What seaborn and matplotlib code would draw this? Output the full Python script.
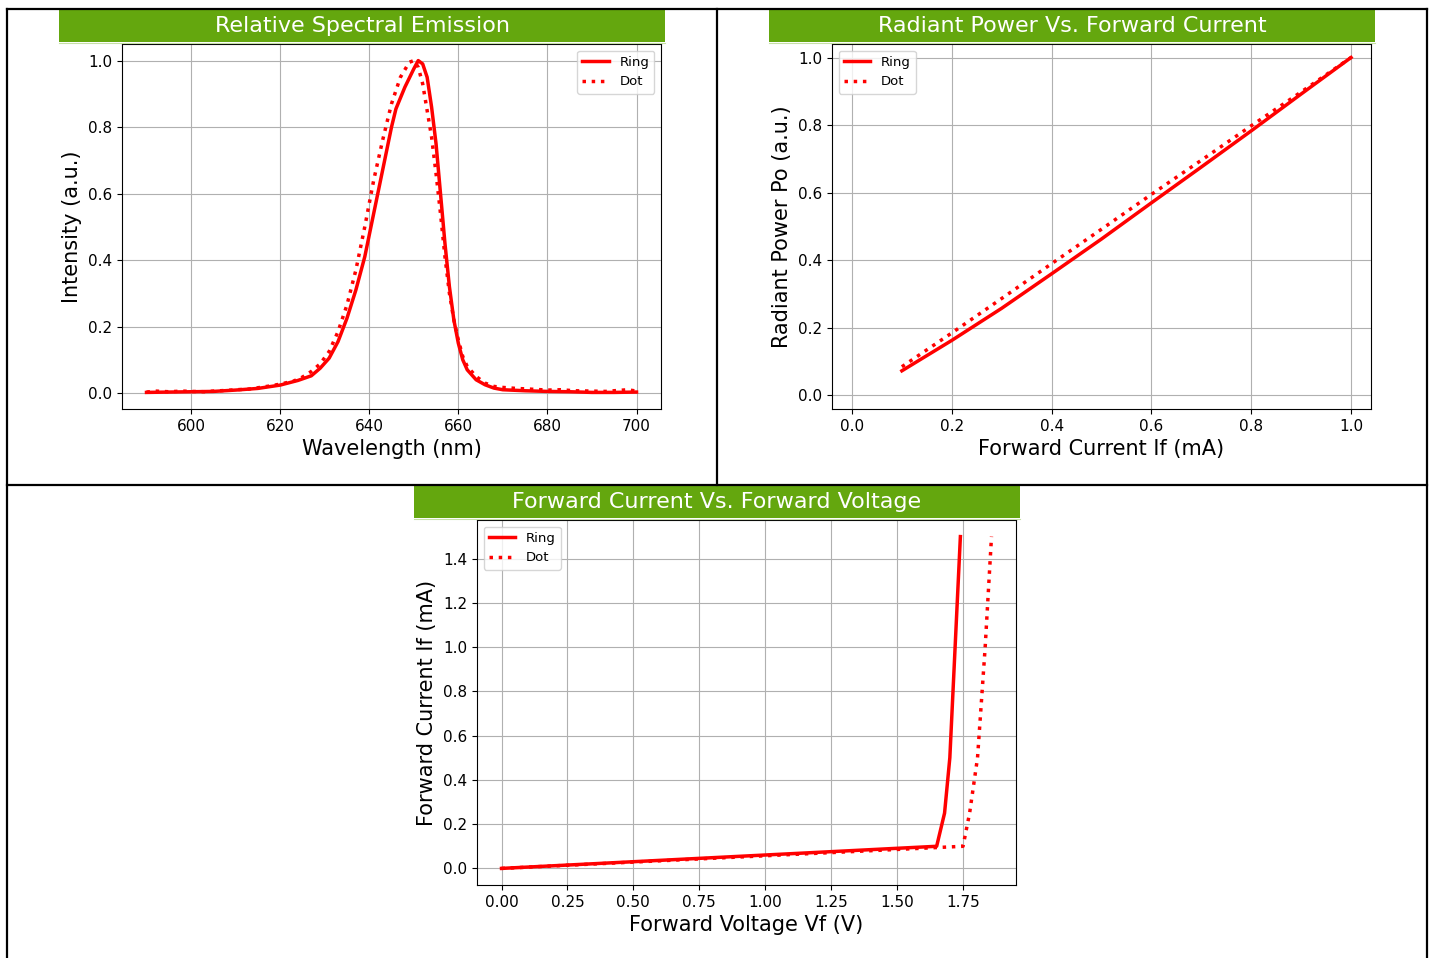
import matplotlib
matplotlib.use("Agg")
import matplotlib.pyplot as plt
import numpy as np
import pandas as pd
import seaborn as sns
from matplotlib.patches import Rectangle
from matplotlib.lines import Line2D

# --- spectral emission ---
wl_ring = [590, 595, 600, 605, 610, 615, 620, 624, 627, 629, 631, 633, 635, 637, 639,
           641, 643, 645, 646, 648, 650, 651, 652, 653, 654, 655, 656, 657, 658, 659,
           660, 661, 662, 664, 666, 668, 670, 675, 680, 685, 690, 695, 700]
int_ring = [0.002, 0.003, 0.004, 0.005, 0.009, 0.014, 0.024, 0.038, 0.052, 0.075, 0.105,
            0.155, 0.225, 0.31, 0.41, 0.54, 0.67, 0.80, 0.855, 0.92, 0.975, 1.0, 0.99,
            0.95, 0.86, 0.75, 0.60, 0.45, 0.32, 0.22, 0.15, 0.10, 0.07, 0.04, 0.025,
            0.015, 0.010, 0.007, 0.005, 0.004, 0.002, 0.002, 0.003]
wl_dot = [590, 592, 595, 598, 600, 603, 605, 608, 610, 613, 615, 618, 620, 623, 625, 627,
          629, 631, 633, 635, 637, 639, 641, 643, 645, 647, 649, 650, 651, 652, 653, 654,
          655, 656, 657, 658, 659, 660, 661, 662, 664, 666, 668, 670, 673, 676, 680, 683,
          686, 690, 693, 696, 698, 700]
int_dot = [0.003, 0.006, 0.004, 0.006, 0.005, 0.004, 0.006, 0.008, 0.010, 0.012, 0.016,
           0.022, 0.027, 0.036, 0.048, 0.065, 0.088, 0.125, 0.185, 0.265, 0.37, 0.50,
           0.64, 0.76, 0.87, 0.95, 0.995, 1.0, 0.98, 0.93, 0.85, 0.77, 0.66, 0.54, 0.41,
           0.30, 0.22, 0.16, 0.11, 0.08, 0.05, 0.03, 0.02, 0.017, 0.014, 0.012, 0.009,
           0.010, 0.007, 0.006, 0.005, 0.008, 0.010, 0.006]

# --- radiant power vs forward current ---
if_power = [0.1, 0.2, 0.3, 0.4, 0.5, 0.6, 0.7, 0.8, 0.9, 1.0]
po_ring = [0.073, 0.163, 0.258, 0.360, 0.463, 0.570, 0.676, 0.783, 0.892, 1.0]
po_dot = [0.085, 0.185, 0.287, 0.390, 0.492, 0.595, 0.696, 0.798, 0.898, 1.0]

# --- forward current vs forward voltage ---
vf_ring = [0.0, 1.65, 1.68, 1.70, 1.72, 1.74]
if_ring = [0.0, 0.10, 0.25, 0.50, 1.00, 1.50]
vf_dot = [0.0, 1.75, 1.775, 1.805, 1.834, 1.858]
if_dot = [0.0, 0.10, 0.25, 0.50, 1.00, 1.50]

W, H = 1432, 958
GREEN = "#64a70e"

fig = plt.figure(figsize=(W / 100, H / 100), dpi=100)


def add_panel(x0, y0, x1, y1, bar_x0, bar_y0, bar_x1, bar_y1, title):
    ax = fig.add_axes([x0 / W, 1 - y1 / H, (x1 - x0) / W, (y1 - y0) / H])
    fig.add_artist(Rectangle((bar_x0 / W, 1 - bar_y1 / H), (bar_x1 - bar_x0) / W,
                             (bar_y1 - bar_y0) / H, transform=fig.transFigure,
                             facecolor=GREEN, edgecolor="none", zorder=2))
    # thin pale line under the bar
    fig.add_artist(Line2D([bar_x0 / W, bar_x1 / W], [1 - (bar_y1 + 0.5) / H] * 2,
                          transform=fig.transFigure, color="#c6e0a6", lw=0.8, zorder=2))
    fig.text((bar_x0 + bar_x1) / 2 / W, 1 - (bar_y0 + bar_y1) / 2 / H, title,
             color="white", fontsize=16, ha="center", va="center", zorder=3)
    return ax


def draw(ax, x1, y1, x2, y2, xlabel, ylabel, loc):
    sns.lineplot(x=x1, y=y1, ax=ax, color="red", lw=2.5, linestyle="-", label="Ring")
    sns.lineplot(x=x2, y=y2, ax=ax, color="red", lw=2.5, linestyle=":", label="Dot")
    ax.set_xlabel(xlabel, fontsize=15)
    ax.set_ylabel(ylabel, fontsize=15)
    ax.tick_params(labelsize=11)
    ax.grid(True)
    ax.legend(loc=loc, fontsize=9.5)


ax1 = add_panel(122, 44, 661, 409, 59, 9, 665, 42, "Relative Spectral Emission")
draw(ax1, wl_ring, int_ring, wl_dot, int_dot, "Wavelength (nm)", "Intensity (a.u.)", "upper right")

ax2 = add_panel(832, 44, 1371, 409, 769, 9, 1375, 42, "Radiant Power Vs. Forward Current")
draw(ax2, if_power, po_ring, if_power, po_dot, "Forward Current If (mA)", "Radiant Power Po (a.u.)", "upper left")
ax2.set_xlim(-0.04, 1.04)
ax2.set_ylim(-0.04, 1.04)

ax3 = add_panel(477, 520, 1016, 885, 414, 485, 1020, 518, "Forward Current Vs. Forward Voltage")
draw(ax3, vf_ring, if_ring, vf_dot, if_dot, "Forward Voltage Vf (V)", "Forward Current If (mA)", "upper left")

# table-like borders
borders = [((7, 9), (1427, 9)), ((7, 9), (7, 958)), ((1427, 9), (1427, 958)),
           ((7, 485), (1427, 485)), ((717, 9), (717, 485))]
for (xa, ya), (xb, yb) in borders:
    fig.add_artist(Line2D([xa / W, xb / W], [1 - ya / H, 1 - yb / H],
                          transform=fig.transFigure, color="black", lw=1.6, zorder=5))

fig.savefig("out.png", dpi=100)
